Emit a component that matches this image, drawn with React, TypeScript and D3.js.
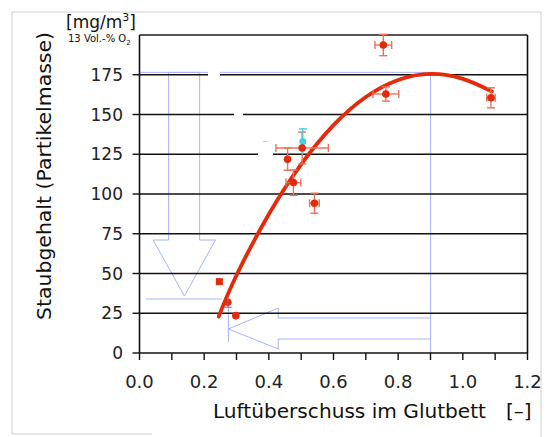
import React from "react";
import * as d3 from "d3";

// Measured points
const ptX = [0.754, 0.762, 1.087, 0.503, 0.458, 0.476, 0.541, 0.273, 0.298];
const ptY = [193.7, 162.9, 160.5, 128.9, 121.9, 107.2, 94.2, 31.9, 23.5];
const errX = [0.026, 0.04, 0.013, 0.081, 0.0, 0.023, 0.015, 0.0, 0.0];
const errY = [6.7, 4.5, 6.3, 10, 7, 8, 6.3, 0, 0];

// square marker
const sqX = [0.247];
const sqY = [44.9];

// cyan point
const cyX = [0.505];
const cyY = [133];
const cyErrY = [8];

// fitted curve
const curveX = [0.245, 0.3, 0.4, 0.5, 0.6, 0.7, 0.8, 0.9, 1.0, 1.09];
const curveY = [23, 48.9, 87.3, 118.7, 143.3, 161, 171.7, 175.5, 172.4, 164.5];

const yTicks = [0, 25, 50, 75, 100, 125, 150, 175];
const xTicks = [0, 0.2, 0.4, 0.6, 0.8, 1.0, 1.2];
const xMinor = [0.1, 0.3, 0.5, 0.7, 0.9, 1.1];

const W = 547;
const H = 437;
const L = 139.5, R = 527.5, T = 35, B = 353;

export default function App() {
  const x = d3.scaleLinear().domain([0, 1.2]).range([L, R]);
  const y = d3.scaleLinear().domain([0, 200]).range([B, T]);
  const line = d3
    .line<number>()
    .x((_, i) => x(curveX[i]))
    .y((_, i) => y(curveY[i]))
    .curve(d3.curveNatural);
  const red = "#e52a0a";
  const errCol = "#f0705a";
  const blue = "#a8b4f8";
  const font = "DejaVu Sans, sans-serif";

  const yTop = y(176.5);
  const vx = x(0.9);
  const downArrow = [
    [x(0.09), yTop],
    [x(0.09), 240],
    [x(0.042), 240],
    [x(0.139), 296],
    [x(0.235), 240],
    [x(0.186), 240],
    [x(0.186), yTop],
  ];
  const leftArrow = [
    [vx, 318],
    [x(0.429), 318],
    [x(0.429), 308],
    [x(0.275), 329],
    [x(0.429), 349],
    [x(0.429), 339],
    [vx, 339],
  ];
  return (
    <svg
      width={W}
      height={H}
      style={{ position: "absolute", left: 0, top: 0, background: "#fff" }}
    >
      {/* outer frame */}
      <g stroke="#cfcfcf" strokeWidth={1} fill="none">
        <line x1={12} y1={12} x2={541} y2={12} />
        <line x1={12} y1={12} x2={12} y2={434} />
        <line x1={12} y1={434} x2={152} y2={434} />
        <line x1={541} y1={12} x2={541} y2={437} />
      </g>

      {/* blue helper arrows */}
      <g stroke={blue} strokeWidth={1} fill="none">
        <line x1={L} y1={yTop} x2={vx} y2={yTop} />
        <line x1={vx} y1={yTop} x2={vx} y2={B + 4} />
        <polygon points={downArrow.map((p) => p.join(",")).join(" ")} />
        <polygon points={leftArrow.map((p) => p.join(",")).join(" ")} />
        <line x1={x(0.02)} y1={299} x2={x(0.254)} y2={299} />
        <line x1={x(0.275)} y1={302} x2={x(0.275)} y2={342} />
      </g>

      {/* gridlines */}
      <g stroke="#111" strokeWidth={1.6}>
        {yTicks
          .filter((t) => t > 0)
          .map((t) => (
            <line key={t} x1={L} x2={R} y1={y(t)} y2={y(t)} />
          ))}
      </g>
      {/* erased gaps */}
      <g fill="#fff">
        <rect x={208} y={71} width={12} height={6} />
        <rect x={234} y={112} width={9} height={6} />
        <rect x={258} y={152} width={15} height={6} />
      </g>
      <line x1={263} x2={269} y1={141.5} y2={141.5} stroke="#d8d4c8" strokeWidth={1} />

      {/* frame */}
      <line x1={L} x2={R} y1={T} y2={T} stroke="#555" strokeWidth={1.8} />
      <line x1={R} x2={R} y1={T} y2={B} stroke="#111" strokeWidth={1.6} />
      <line x1={L} x2={L} y1={T} y2={B} stroke="#111" strokeWidth={1.6} />
      <line x1={L} x2={R} y1={B} y2={B} stroke="#111" strokeWidth={1.6} />

      {/* y ticks */}
      {yTicks.map((t) => (
        <g key={t}>
          <line x1={L - 7} x2={L} y1={y(t)} y2={y(t)} stroke="#111" strokeWidth={1.4} />
          <text
            x={123}
            y={y(t) + 6}
            textAnchor="end"
            fontFamily={font}
            fontSize={17}
            fill="#222"
          >
            {t}
          </text>
        </g>
      ))}
      {/* x ticks */}
      {xTicks.concat(xMinor).map((t) => (
        <line key={t} x1={x(t)} x2={x(t)} y1={B} y2={B + 7} stroke="#111" strokeWidth={1.4} />
      ))}
      {xTicks.map((t) => (
        <text
          key={t}
          x={x(t)}
          y={388}
          textAnchor="middle"
          fontFamily={font}
          fontSize={18}
          fill="#222"
        >
          {t.toFixed(1)}
        </text>
      ))}

      {/* axis titles */}
      <text
        x={213}
        y={418}
        fontFamily={font}
        fontSize={20}
        fill="#111"
        textLength={273}
        lengthAdjust="spacingAndGlyphs"
      >
        Luftüberschuss im Glutbett
      </text>
      <text x={506} y={418} fontFamily={font} fontSize={20} fill="#111">
        [–]
      </text>
      <text
        transform="translate(51,320) rotate(-90)"
        fontFamily={font}
        fontSize={20}
        fill="#111"
        textLength={288}
        lengthAdjust="spacingAndGlyphs"
      >
        Staubgehalt (Partikelmasse)
      </text>
      <text x={66} y={28} fontFamily={font} fontSize={17} fill="#111">
        [mg/m
        <tspan dy={-7} fontSize={11}>3</tspan>
        <tspan dy={7}>]</tspan>
      </text>
      <text x={68} y={42} fontFamily={font} fontSize={10} fill="#111">
        13 Vol.-% O
        <tspan dy={3} fontSize={7}>2</tspan>
      </text>

      {/* fitted curve */}
      <path d={line(curveX) || ""} fill="none" stroke={red} strokeWidth={3.8} strokeLinecap="round" />

      {/* error bars */}
      <g stroke={errCol} strokeWidth={1.4}>
        {ptX.map((px, i) => (
          <g key={i}>
            {errX[i] > 0 && (
              <>
                <line x1={x(px - errX[i])} x2={x(px + errX[i])} y1={y(ptY[i])} y2={y(ptY[i])} />
                <line x1={x(px - errX[i])} x2={x(px - errX[i])} y1={y(ptY[i]) - 4} y2={y(ptY[i]) + 4} />
                <line x1={x(px + errX[i])} x2={x(px + errX[i])} y1={y(ptY[i]) - 4} y2={y(ptY[i]) + 4} />
              </>
            )}
            {errY[i] > 0 && (
              <>
                <line x1={x(px)} x2={x(px)} y1={y(ptY[i] - errY[i])} y2={y(ptY[i] + errY[i])} />
                <line x1={x(px) - 4} x2={x(px) + 4} y1={y(ptY[i] - errY[i])} y2={y(ptY[i] - errY[i])} />
                <line x1={x(px) - 4} x2={x(px) + 4} y1={y(ptY[i] + errY[i])} y2={y(ptY[i] + errY[i])} />
              </>
            )}
          </g>
        ))}
      </g>
      {/* cyan point */}
      <g stroke="#44d0e0" strokeWidth={1.4}>
        {cyX.map((cx, i) => (
          <g key={i}>
            <line x1={x(cx)} x2={x(cx)} y1={y(cyY[i] - cyErrY[i])} y2={y(cyY[i] + cyErrY[i])} />
            <line x1={x(cx) - 4} x2={x(cx) + 4} y1={y(cyY[i] + cyErrY[i])} y2={y(cyY[i] + cyErrY[i])} />
            <circle cx={x(cx)} cy={y(cyY[i])} r={3.5} fill="#44d0e0" stroke="none" />
          </g>
        ))}
      </g>
      {/* points */}
      {ptX.map((px, i) => (
        <circle key={i} cx={x(px)} cy={y(ptY[i])} r={3.8} fill={red} />
      ))}
      <g stroke="#9a5ab0" strokeWidth={1}>
        <line x1={x(0.273)} x2={x(0.273)} y1={y(31.9) - 5} y2={y(31.9) + 5} />
        <line x1={x(0.273) - 4} x2={x(0.273) + 4} y1={y(31.9) + 5} y2={y(31.9) + 5} />
      </g>
      {sqX.map((sx, i) => (
        <rect key={i} x={x(sx) - 3.5} y={y(sqY[i]) - 3.5} width={7} height={7} fill={red} />
      ))}
    </svg>
  );
}
